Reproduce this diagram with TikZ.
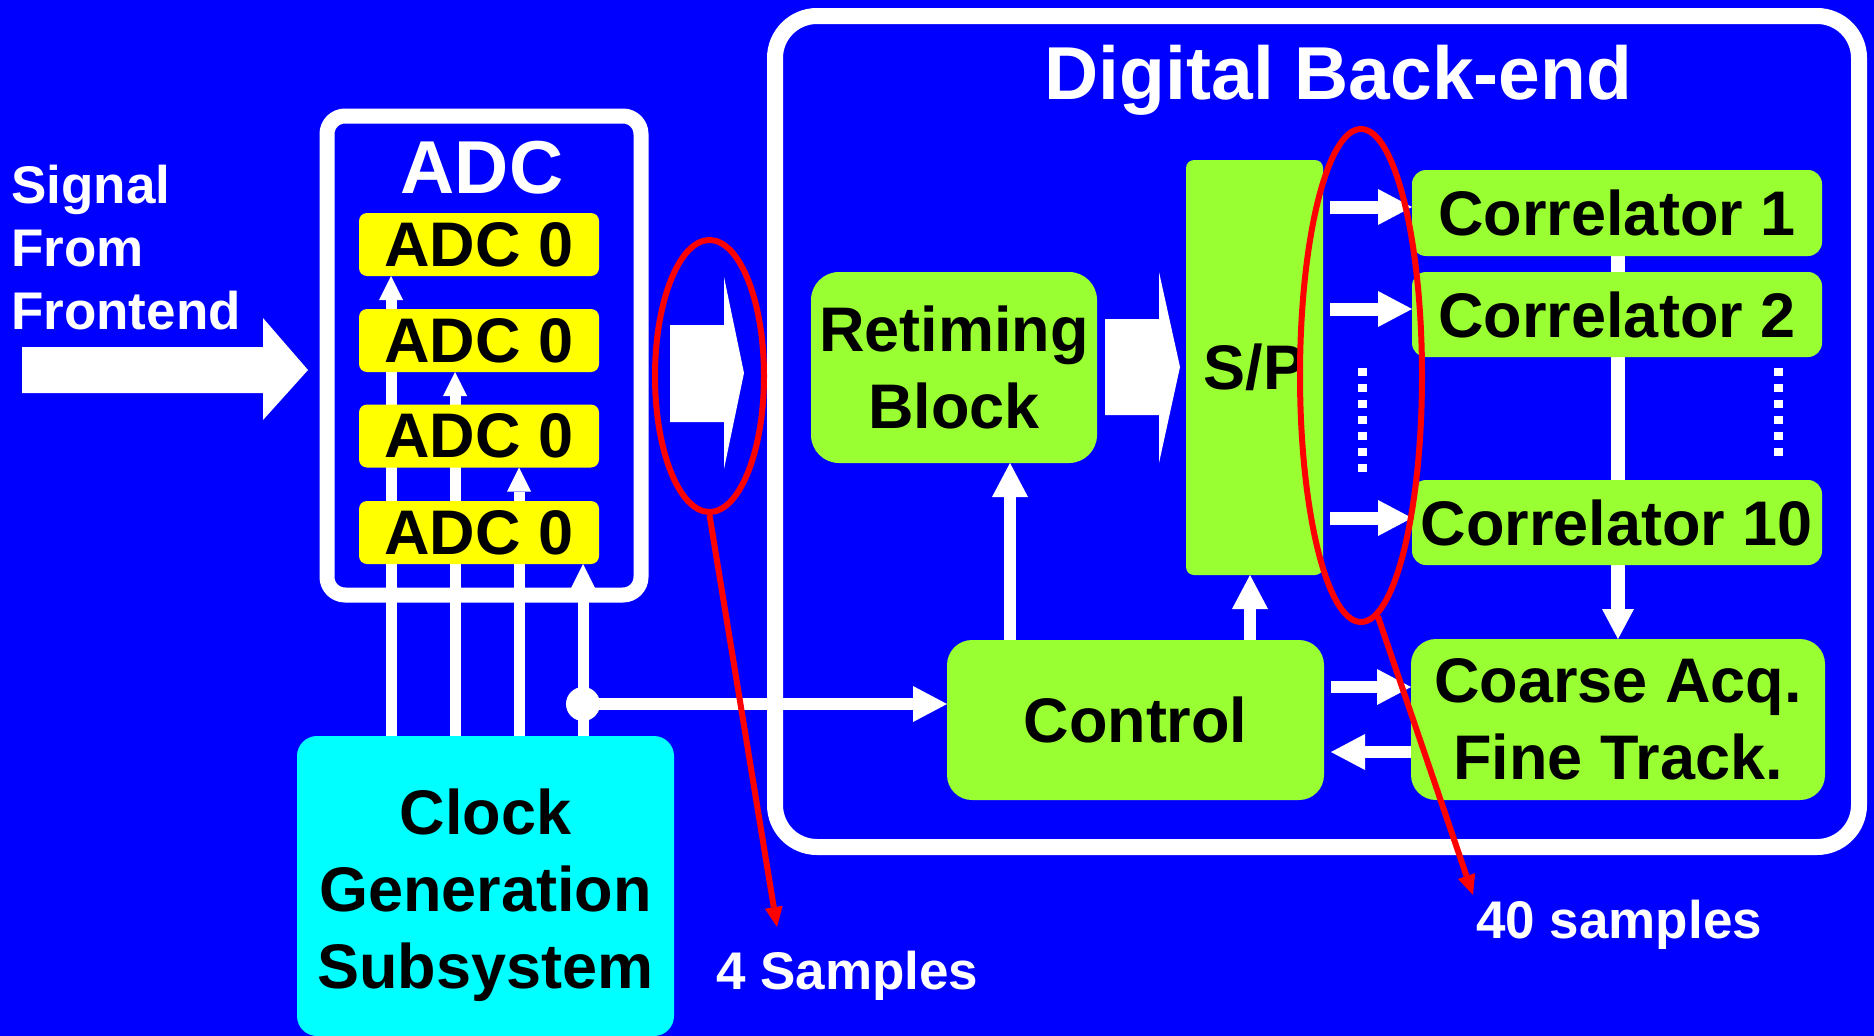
\documentclass[tikz,border=0pt]{standalone}
\usepackage{fontspec}
\setmainfont{Liberation Sans}
\usetikzlibrary{arrows.meta,shapes.geometric}
\definecolor{bgblue}{RGB}{0,0,255}
\definecolor{lgreen}{RGB}{153,255,51}
\definecolor{yel}{RGB}{255,255,0}
\definecolor{cyanb}{RGB}{0,255,255}
\definecolor{redl}{RGB}{255,0,0}
\pgfdeclarelayer{bg}
\pgfdeclarelayer{lines}
\pgfsetlayers{bg,lines,main}
\newcommand\blkfont{\fontsize{63pt}{77pt}\selectfont\bfseries}
\newcommand\ttlfont{\fontsize{75pt}{82pt}\selectfont\bfseries}
\newcommand\lblfont{\fontsize{53pt}{63pt}\selectfont\bfseries}
\begin{document}
\begin{tikzpicture}[x=1pt,y=-1pt,
  box/.style={inner sep=0pt, outer sep=0pt, font=\blkfont, text=black, align=center},
  gbox/.style={box, fill=lgreen},
  ybox/.style={box, fill=yel, rounded corners=8pt, minimum width=240pt, minimum height=63pt},
  frame/.style={draw=white, inner sep=0pt},
  warrow/.style={draw=white, line width=12pt, -{Triangle[width=36pt,length=34pt,line width=0pt]}},
  clk/.style={draw=white, line width=11pt, -{Triangle[width=24pt,length=24pt,line width=0pt]}},
  rarrow/.style={draw=redl, line width=6pt, -{Triangle[width=18pt,length=20pt,line width=0pt]}},
  rell/.style={draw=redl, line width=6pt, ellipse, inner sep=0pt},
  wtext/.style={text=white, inner sep=0pt},
  dots/.style={draw=white, line width=9pt, dash pattern=on 8pt off 8pt},
]
\useasboundingbox (0,0) rectangle (1874,1036);
\begin{pgfonlayer}{bg}
  \fill[bgblue] (0,0) rectangle (1874,1036);
\end{pgfonlayer}

% ADC block
\node[frame, line width=15pt, rounded corners=18pt, minimum width=314pt, minimum height=479pt] (adcbox) at (484,355.5) {};
\node[wtext, font=\ttlfont, anchor=base] (adctitle) at (482,193) {ADC};
\node[ybox] (adc1) at (479,244.5) {ADC 0};
\node[ybox] (adc2) at (479,340.5) {ADC 0};
\node[ybox] (adc3) at (479,436) {ADC 0};
\node[ybox] (adc4) at (479,532.5) {ADC 0};

% clock
\node[box, fill=cyanb, rounded corners=20pt, minimum width=377pt, minimum height=300pt] (clock) at (485.5,886) {\rule{0pt}{64pt}Clock\\Generation\\Subsystem};

% input label
\node[wtext, font=\lblfont, align=left, anchor=north west] (sig) at (11,165) {Signal\\From\\Frontend};

% digital back-end
\node[frame, line width=16pt, rounded corners=42pt, minimum width=1084pt, minimum height=831pt] (digbox) at (1317,431.5) {};
\node[wtext, font=\ttlfont, anchor=base] (digtitle) at (1338.5,99) {Digital Back-end};
\node[gbox, rounded corners=28pt, minimum width=286pt, minimum height=191pt] (retime) at (954,367.5) {Retiming\\Block};
\node[gbox, rounded corners=8pt, minimum width=137pt, minimum height=415pt] (sp) at (1254.5,367.5) {S/P};
\node[gbox, rounded corners=14pt, minimum width=410pt, minimum height=86pt] (corr1) at (1617,213) {Correlator 1};
\node[gbox, rounded corners=14pt, minimum width=410pt, minimum height=85pt] (corr2) at (1617,314.5) {Correlator 2};
\node[gbox, rounded corners=14pt, minimum width=410pt, minimum height=85pt] (corr10) at (1617,522.5) {Correlator 10};
\node[gbox, rounded corners=25pt, minimum width=377pt, minimum height=160pt] (ctrl) at (1135.5,720) {Control};
\node[gbox, rounded corners=25pt, minimum width=414pt, minimum height=161pt] (coarse) at (1618,719.5) {Coarse Acq.\\Fine Track.};

% sample labels
\node[wtext, font=\lblfont, anchor=base west] (s4) at (716,989) {4 Samples};
\node[wtext, font=\lblfont, anchor=base west] (s40) at (1476,938) {40 samples};

% block arrows
\fill[white] (22,347) -- (263,347) -- (263,318) -- (308,370) -- (263,420) -- (263,393) -- (22,393) -- cycle;
\fill[white] (670,325) -- (724,325) -- (724,277) -- (744,373) -- (724,469) -- (724,422) -- (670,422) -- cycle;
\fill[white] (1105,319) -- (1159,319) -- (1159,272) -- (1180,367) -- (1159,463) -- (1159,415) -- (1105,415) -- cycle;

% connectors
\begin{pgfonlayer}{lines}
  \coordinate (c1) at (391,0);
  \coordinate (c2) at (455,0);
  \coordinate (c3) at (519,0);
  \coordinate (c4) at (583,0);
  \draw[clk] (clock.north -| c1) -- (adc1.south -| c1);
  \draw[clk] (clock.north -| c2) -- (adc2.south -| c2);
  \draw[clk] (clock.north -| c3) -- (adc3.south -| c3);
  \draw[clk] (clock.north -| c4) -- (adc4.south -| c4);
  \coordinate (jn) at (583,704);
  \fill[white] (jn) circle[radius=17pt];
  \draw[warrow] (jn) -- (ctrl.west |- jn);
  \coordinate (cx1) at (1010,0);
  \coordinate (cx2) at (1250,0);
  \draw[warrow] (ctrl.north -| cx1) -- (retime.south -| cx1);
  \draw[warrow] (ctrl.north -| cx2) -- (sp.south -| cx2);
  \coordinate (cy1) at (0,687);
  \coordinate (cy2) at (0,752);
  \draw[warrow, shorten <=7pt] (ctrl.east |- cy1) -- (coarse.west |- cy1);
  \draw[warrow, shorten >=7pt] (coarse.west |- cy2) -- (ctrl.east |- cy2);
  \coordinate (sy1) at (0,207);
  \coordinate (sy2) at (0,309);
  \coordinate (sy3) at (0,518);
  \draw[warrow, line width=13pt, shorten <=7pt] (sp.east |- sy1) -- (corr1.west |- sy1);
  \draw[warrow, line width=13pt, shorten <=7pt] (sp.east |- sy2) -- (corr2.west |- sy2);
  \draw[warrow, line width=13pt, shorten <=7pt] (sp.east |- sy3) -- (corr10.west |- sy3);
  \draw[draw=white, line width=14pt, -{Triangle[width=32pt,length=30pt,line width=0pt]}] (corr1.south -| coarse.north) -- (coarse.north);
  \draw[dots] (1362,368) -- (1362,472);
  \draw[dots] (1778,368) -- (1778,456);
\end{pgfonlayer}

% red annotations
\node[rell, minimum width=109pt, minimum height=272pt] (ell1) at (709.5,376) {};
\node[rell, minimum width=122pt, minimum height=493pt] (ell2) at (1361,375.5) {};
\coordinate (t1) at (777,927);
\coordinate (t2) at (1473,895);
\draw[rarrow] (ell1.south) -- (t1);
\draw[rarrow] (ell2.-86) -- (t2);
\end{tikzpicture}
\end{document}
